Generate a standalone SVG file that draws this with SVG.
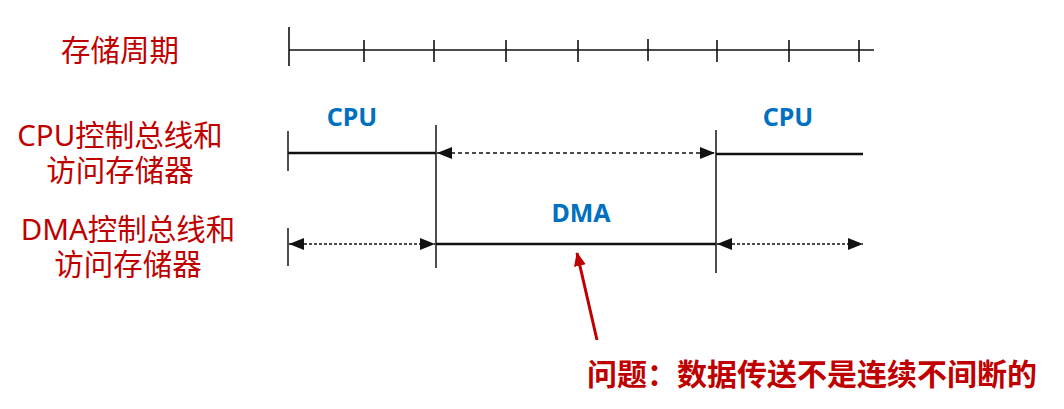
<svg xmlns="http://www.w3.org/2000/svg" width="1064" height="409" viewBox="0 0 1064 409">
<style>
.lbl{font-family:"Noto Sans CJK SC","Noto Sans",sans-serif;font-size:29.5px;fill:#C00000;text-anchor:middle}
.lat{font-family:"Noto Sans","Noto Sans CJK SC",sans-serif}
.blue{font-family:"Noto Sans","Noto Sans CJK SC",sans-serif;font-size:25px;font-weight:bold;fill:#0070C0;text-anchor:middle}
.note{font-family:"Noto Sans CJK SC",sans-serif;font-size:30px;font-weight:bold;fill:#C00000}
.axis{stroke:#111;stroke-width:1.6;fill:none}
.solid{stroke:#111;stroke-width:2.4;fill:none}
.dash{stroke:#111;stroke-width:1.3;stroke-dasharray:4 3;fill:none}
.dot{stroke:#111;stroke-width:1.4;stroke-dasharray:3 2;fill:none}
.vert{stroke:#222;stroke-width:1.6;fill:none}
</style>
<defs>
<marker id="ah" markerWidth="15" markerHeight="12" refX="15" refY="6" orient="auto-start-reverse" markerUnits="userSpaceOnUse">
<path d="M0,0 L15,6 L0,12 Z" fill="#111"/>
</marker>
<marker id="rah" markerWidth="14" markerHeight="12" refX="13" refY="6" orient="auto" markerUnits="userSpaceOnUse">
<path d="M0,0 L14,6 L0,12 Z" fill="#C00000"/>
</marker>
</defs>
<rect width="1064" height="409" fill="#fff"/>
<g id="labels">
<text class="lbl" x="120" y="61">存储周期</text>
<text class="lbl" x="120" y="146"><tspan class="lat">CPU</tspan>控制总线和<tspan x="120" y="181">访问存储器</tspan></text>
<text class="lbl" x="128" y="240"><tspan class="lat">DMA</tspan>控制总线和<tspan x="128" y="275">访问存储器</tspan></text>
</g>
<g id="timeline">
<line class="axis" x1="289" y1="50" x2="874" y2="50"/>
<line class="axis" x1="289" y1="27" x2="289" y2="66"/>
<g class="axis">
<line x1="364" y1="40" x2="364" y2="62"/>
<line x1="434" y1="40" x2="434" y2="62"/>
<line x1="506" y1="40" x2="506" y2="62"/>
<line x1="578" y1="40" x2="578" y2="62"/>
<line x1="648" y1="39" x2="648" y2="61"/>
<line x1="717" y1="40" x2="717" y2="62"/>
<line x1="789" y1="40" x2="789" y2="62"/>
<line x1="859" y1="40" x2="859" y2="62"/>
</g>
</g>
<g id="boundaries">
<line class="vert" x1="288" y1="131" x2="288" y2="171"/>
<line class="vert" x1="288" y1="228" x2="288" y2="266"/>
<line class="vert" x1="436" y1="125" x2="436" y2="268"/>
<line class="vert" x1="716" y1="130" x2="716" y2="273"/>
</g>
<g id="cpu1">
<text class="blue" x="352" y="126">CPU</text>
<line class="solid" x1="288" y1="153" x2="436" y2="153"/>
</g>
<g id="cpu2">
<text class="blue" x="788" y="126">CPU</text>
<line class="solid" x1="716" y1="154" x2="863" y2="154"/>
</g>
<g id="dma">
<text class="blue" x="581" y="222">DMA</text>
<line class="solid" x1="436" y1="244" x2="716" y2="244"/>
</g>
<g id="connectors">
<line class="dash" x1="437" y1="153" x2="715" y2="153" marker-start="url(#ah)" marker-end="url(#ah)"/>
<line class="dot" x1="289" y1="244" x2="435" y2="244" marker-start="url(#ah)" marker-end="url(#ah)"/>
<line class="dot" x1="717" y1="244" x2="863" y2="244" marker-start="url(#ah)" marker-end="url(#ah)"/>
<line x1="597" y1="340" x2="577" y2="253" stroke="#C00000" stroke-width="3" marker-end="url(#rah)"/>
</g>
<g id="note">
<text class="note" x="587" y="385">问题：数据传送不是连续不间断的</text>
</g>
</svg>
